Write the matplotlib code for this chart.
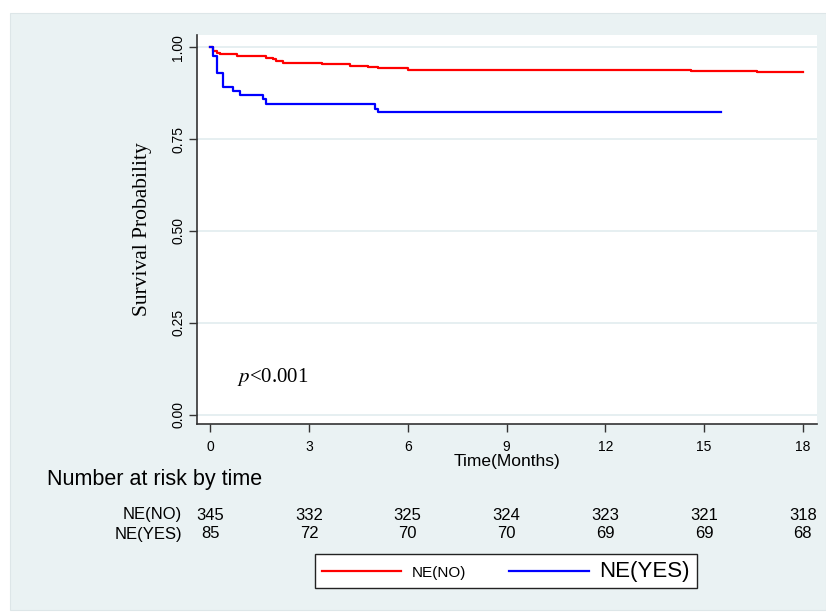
import matplotlib
matplotlib.use("Agg")
import matplotlib.pyplot as plt
from matplotlib.patches import Rectangle
from matplotlib.lines import Line2D
import matplotlib.transforms as mtransforms

# Kaplan-Meier step values
t_no = [0, 0.1, 0.2, 0.3, 0.8, 1.0, 1.7, 1.9, 2.0, 2.2, 3.1, 3.4, 4.25, 4.8, 5.1, 6.0, 14.6, 16.6, 18.0]
s_no = [1.0, 0.990, 0.985, 0.980, 0.976, 0.975, 0.971, 0.967, 0.963, 0.958, 0.956, 0.954, 0.950, 0.946,
        0.943, 0.938, 0.935, 0.932, 0.932]
t_yes = [0, 0.1, 0.2, 0.4, 0.7, 0.9, 1.6, 1.7, 5.0, 5.1, 15.5]
s_yes = [1.0, 0.976, 0.929, 0.892, 0.881, 0.870, 0.858, 0.845, 0.833, 0.823, 0.823]

# number at risk table
risk_times = [0, 3, 6, 9, 12, 15, 18]
risk_no = [345, 332, 325, 324, 323, 321, 318]
risk_yes = [85, 72, 70, 70, 69, 69, 68]
group_labels = ["NE(NO)", "NE(YES)"]

sans = ["Liberation Sans", "DejaVu Sans"]
serif = ["Liberation Serif", "DejaVu Serif"]

W, H = 826, 613
fig = plt.figure(figsize=(W / 100, H / 100), dpi=100)
fig.patch.set_facecolor("white")

# light panel behind everything
fig.patches.append(Rectangle((10 / W, 1 - 610 / H), (W - 10) / W, (610 - 13) / H,
                             transform=fig.transFigure, facecolor="#EAF2F3",
                             edgecolor="#DDE6E8", lw=0.8, zorder=-5))

ax = fig.add_axes([197 / W, 1 - 424 / H, (817 - 197) / W, (424 - 35) / H])
ax.set_facecolor("white")

ax.plot(t_no, s_no, drawstyle="steps-post", color="#FF0000", lw=1.6)
ax.plot(t_yes, s_yes, drawstyle="steps-post", color="#0000FF", lw=1.6)

ax.set_xlim(-0.4, 18.43)
ax.set_ylim(-0.025, 1.033)
ax.set_xticks(risk_times)
ax.set_yticks([0, 0.25, 0.5, 0.75, 1.0])
ax.set_yticklabels(["0.00", "0.25", "0.50", "0.75", "1.00"])
ax.grid(axis="y", color="#E2ECEF", lw=1.2)
ax.set_axisbelow(True)

for side in ["top", "right"]:
    ax.spines[side].set_visible(False)
for side in ["left", "bottom"]:
    ax.spines[side].set_color("#333333")
    ax.spines[side].set_linewidth(1.2)

ax.tick_params(axis="both", length=5.5, width=1.0, color="#333333", pad=3)
ax.tick_params(axis="x", pad=6)
ax.tick_params(axis="y", labelrotation=90)
for lab in ax.get_yticklabels():
    lab.set_family(sans)
    lab.set_fontsize(10)
    lab.set_va("center")
for lab in ax.get_xticklabels():
    lab.set_family(sans)
    lab.set_fontsize(10)

ax.set_ylabel("Survival Probability", family=serif, fontsize=15.5, labelpad=14)
ax.set_xlabel("Time(Months)", family=sans, fontsize=12.5, labelpad=0)

ax.text(0.82, 0.103, "$p$<0.001", family=serif, fontsize=15, va="center", ha="left",
        math_fontfamily="stix")

# risk table below axis
fig.text(47 / W, 1 - 480 / H, "Number at risk by time", family=sans, fontsize=15.5,
         ha="left", va="center")
trans = mtransforms.blended_transform_factory(ax.transData, fig.transFigure)
for row, (lab, vals) in enumerate(zip(group_labels, [risk_no, risk_yes])):
    y = 1 - (515 + row * 19) / H
    fig.text(182 / W, y, lab, family=sans, fontsize=12, ha="right", va="center")
    for t, v in zip(risk_times, vals):
        ax.text(t, y, str(v), transform=trans, family=sans, fontsize=12,
                ha="center", va="center", clip_on=False)

# legend
handles = [Line2D([], [], color="#FF0000", lw=1.6), Line2D([], [], color="#0000FF", lw=1.6)]
leg = fig.legend(handles, group_labels, loc="center", bbox_to_anchor=(506 / W, 1 - 571 / H),
                 ncol=2, frameon=True, fancybox=False, edgecolor="#222222", facecolor="white",
                 framealpha=1, handlelength=5.2, columnspacing=2.8, handletextpad=0.7,
                 borderpad=0.45, prop={"family": sans, "size": 11})
leg.get_frame().set_linewidth(1.0)
leg.get_texts()[1].set_fontsize(16)

fig.savefig("out.png", dpi=100, facecolor=fig.get_facecolor())
